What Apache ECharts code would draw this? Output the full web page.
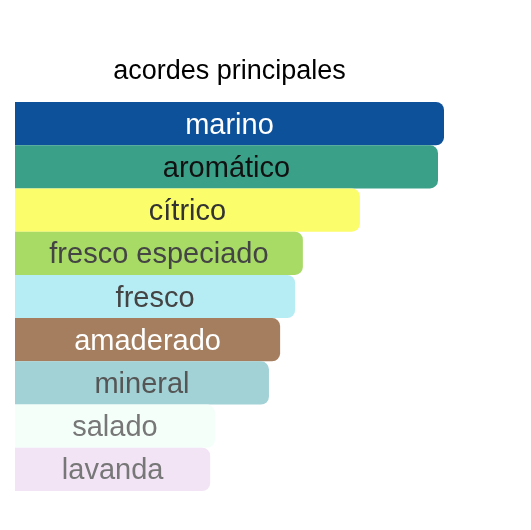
<!DOCTYPE html>
<html>
<head>
<meta charset="utf-8">
<script src="https://cdn.jsdelivr.net/npm/echarts@6/dist/echarts.min.js"></script>
<style>html,body{margin:0;padding:0;background:#fff;}#c{width:531px;height:530px;}</style>
</head>
<body>
<div id="c"></div>
<script>
const categories = ['marino','aromático','cítrico','fresco especiado','fresco','amaderado','mineral','salado','lavanda'];
const values = [100, 98.6, 80.4, 67.1, 65.3, 61.8, 59.2, 46.6, 45.5];
const barColors = ['#0E519B','#3AA088','#FCFD6A','#A8DA66','#B6ECF3','#A47E5E','#A2D2D6','#F4FFFA','#F2E4F5'];
const labelColors = ['#ffffff','#111111','#333333','#444444','#444444','#ffffff','#555555','#777777','#777777'];

const chart = echarts.init(document.getElementById('c'));
chart.setOption({
  animation: false,
  title: {
    text: 'acordes principales',
    left: 229.5,
    top: 58,
    padding: 0,
    textAlign: 'center',
    textStyle: { fontFamily: 'Liberation Sans, Arial, sans-serif', fontSize: 27, fontWeight: 'normal', color: '#000' }
  },
  grid: { left: 15, top: 102, width: 429, height: 389, containLabel: false },
  xAxis: { type: 'value', min: 0, max: 100, show: false },
  yAxis: { type: 'category', data: categories, inverse: true, show: false },
  series: [{
    type: 'bar',
    barWidth: '100%',
    barCategoryGap: 0,
    data: values.map((v, i) => ({
      value: v,
      itemStyle: { color: barColors[i], borderRadius: [0, 8, 8, 0] },
      label: { color: labelColors[i] }
    })),
    label: {
      show: true,
      position: 'inside',
      offset: [0, 2],
      formatter: p => p.name,
      fontFamily: 'Liberation Sans, Arial, sans-serif',
      fontSize: 29,
      fontWeight: 'normal'
    }
  }]
});
</script>
</body>
</html>
